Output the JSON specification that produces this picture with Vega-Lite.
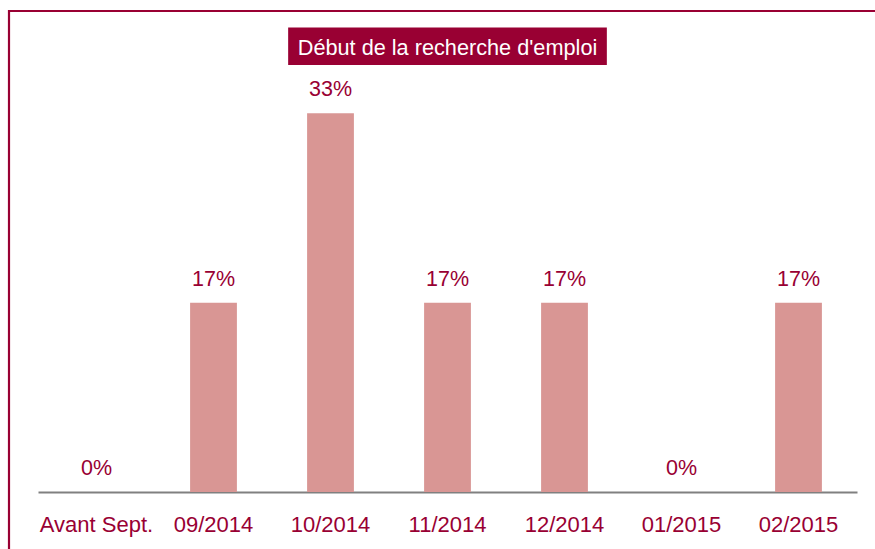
{
  "$schema": "https://vega.github.io/schema/vega-lite/v6.json",
  "autosize": {"type": "none"},
  "padding": {"left": 9, "top": 11, "right": 0, "bottom": 0},
  "width": 866,
  "height": 538,
  "background": "white",
  "config": {
    "view": {"stroke": "#990033", "strokeWidth": 2.2, "strokeDash": [866, 1404, 538], "fill": "white"},
    "font": "Liberation Sans"
  },
  "data": {
    "values": [
      {"periode": "Avant Sept.", "part": 0},
      {"periode": "09/2014", "part": 0.1667},
      {"periode": "10/2014", "part": 0.3333},
      {"periode": "11/2014", "part": 0.1667},
      {"periode": "12/2014", "part": 0.1667},
      {"periode": "01/2015", "part": 0},
      {"periode": "02/2015", "part": 0.1667}
    ]
  },
  "encoding": {
    "x": {
      "field": "periode",
      "type": "nominal",
      "sort": null,
      "scale": {"range": [29, 848], "paddingInner": 0.6, "paddingOuter": 0.3},
      "axis": {
        "title": null,
        "orient": "bottom",
        "offset": -57,
        "ticks": false,
        "labelAngle": 0,
        "labelFont": "Liberation Sans",
        "labelFontSize": 22,
        "labelColor": "#990033",
        "labelPadding": 22,
        "labelLimit": 0,
        "domainColor": "#808080",
        "domainWidth": 2,
        "grid": false
      }
    }
  },
  "layer": [
    {
      "mark": {"type": "bar", "color": "#D99694"},
      "encoding": {
        "y": {
          "field": "part",
          "type": "quantitative",
          "scale": {"domain": [0, 0.4], "range": [481, 26.6], "nice": false, "zero": true},
          "axis": null
        }
      }
    },
    {
      "mark": {"type": "text", "font": "Liberation Sans", "fontSize": 21.5, "color": "#990033", "baseline": "alphabetic", "dy": -17},
      "encoding": {
        "y": {"field": "part", "type": "quantitative"},
        "text": {"field": "part", "type": "quantitative", "format": ".0%"}
      }
    },
    {
      "data": {"values": [{"periode": "11/2014", "pos": 0.3924, "titre": "Début de la recherche d'emploi"}]},
      "mark": {"type": "point", "shape": "M-1,-0.1183H1V0.1183H-1Z", "size": 101570, "filled": true, "color": "#990033", "opacity": 1},
      "encoding": {
        "y": {"field": "pos", "type": "quantitative"}
      }
    },
    {
      "data": {"values": [{"periode": "11/2014", "pos": 0.3924, "titre": "Début de la recherche d'emploi"}]},
      "mark": {"type": "text", "font": "Liberation Sans", "fontSize": 21.7, "color": "white", "baseline": "middle", "dy": 1.5},
      "encoding": {
        "y": {"field": "pos", "type": "quantitative"},
        "text": {"field": "titre", "type": "nominal"}
      }
    }
  ]
}
